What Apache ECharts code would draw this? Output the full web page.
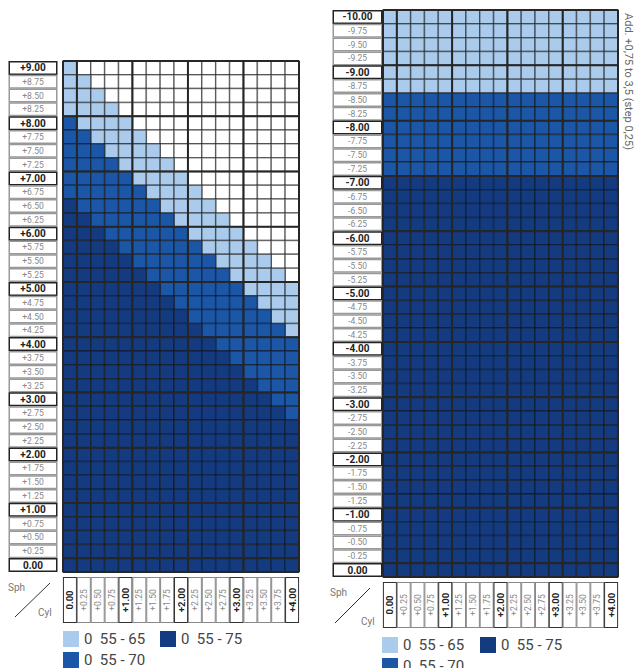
<!DOCTYPE html>
<html><head><meta charset="utf-8">
<script src="https://cdn.jsdelivr.net/npm/echarts@6/dist/echarts.min.js"></script>
<style>html,body{margin:0;padding:0;background:#fff}#c{width:639px;height:668px}</style>
</head><body><div id="c"></div>
<script>
// ---- data ----
const cylLabels = ['0.00','+0.25','+0.50','+0.75','+1.00','+1.25','+1.50','+1.75','+2.00',
  '+2.25','+2.50','+2.75','+3.00','+3.25','+3.50','+3.75','+4.00'];
const leftSph = ['+9.00','+8.75','+8.50','+8.25','+8.00','+7.75','+7.50','+7.25','+7.00',
  '+6.75','+6.50','+6.25','+6.00','+5.75','+5.50','+5.25','+5.00','+4.75','+4.50','+4.25',
  '+4.00','+3.75','+3.50','+3.25','+3.00','+2.75','+2.50','+2.25','+2.00','+1.75','+1.50',
  '+1.25','+1.00','+0.75','+0.50','+0.25','0.00'];
const rightSph = ['-10.00','-9.75','-9.50','-9.25','-9.00','-8.75','-8.50','-8.25','-8.00',
  '-7.75','-7.50','-7.25','-7.00','-6.75','-6.50','-6.25','-6.00','-5.75','-5.50','-5.25',
  '-5.00','-4.75','-4.50','-4.25','-4.00','-3.75','-3.50','-3.25','-3.00','-2.75','-2.50',
  '-2.25','-2.00','-1.75','-1.50','-1.25','-1.00','-0.75','-0.50','-0.25','0.00'];
const categoryNames = ['0  55 - 65', '0  55 - 70', '0  55 - 75'];
// cell codes per row (one char per Cyl column): 0 = none, 1/2/3 = category index + 1
const leftRows = [
  '10000000000000000', // +9.00
  '11000000000000000', // +8.75
  '11100000000000000', // +8.50
  '11110000000000000', // +8.25
  '21111000000000000', // +8.00
  '22111100000000000', // +7.75
  '22211110000000000', // +7.50
  '22221111000000000', // +7.25
  '22222111100000000', // +7.00
  '22222211110000000', // +6.75
  '32222221111000000', // +6.50
  '33222222111100000', // +6.25
  '33322222211110000', // +6.00
  '33332222221111000', // +5.75
  '33333222222111100', // +5.50
  '33333322222211110', // +5.25
  '33333332222221111', // +5.00
  '33333333222222111', // +4.75
  '33333333322222211', // +4.50
  '33333333332222221', // +4.25
  '33333333333222222', // +4.00
  '33333333333322222', // +3.75
  '33333333333332222', // +3.50
  '33333333333333222', // +3.25
  '33333333333333322', // +3.00
  '33333333333333332', // +2.75
  '33333333333333333', // +2.50
  '33333333333333333', // +2.25
  '33333333333333333', // +2.00
  '33333333333333333', // +1.75
  '33333333333333333', // +1.50
  '33333333333333333', // +1.25
  '33333333333333333', // +1.00
  '33333333333333333', // +0.75
  '33333333333333333', // +0.50
  '33333333333333333', // +0.25
  '33333333333333333'  // 0.00
];
const rightRows = [
  '11111111111111111', // -10.00
  '11111111111111111', // -9.75
  '11111111111111111', // -9.50
  '11111111111111111', // -9.25
  '11111111111111111', // -9.00
  '11111111111111111', // -8.75
  '22222222222222222', // -8.50
  '22222222222222222', // -8.25
  '22222222222222222', // -8.00
  '22222222222222222', // -7.75
  '22222222222222222', // -7.50
  '22222222222222222', // -7.25
  '33333333333333333', // -7.00
  '33333333333333333', // -6.75
  '33333333333333333', // -6.50
  '33333333333333333', // -6.25
  '33333333333333333', // -6.00
  '33333333333333333', // -5.75
  '33333333333333333', // -5.50
  '33333333333333333', // -5.25
  '33333333333333333', // -5.00
  '33333333333333333', // -4.75
  '33333333333333333', // -4.50
  '33333333333333333', // -4.25
  '33333333333333333', // -4.00
  '33333333333333333', // -3.75
  '33333333333333333', // -3.50
  '33333333333333333', // -3.25
  '33333333333333333', // -3.00
  '33333333333333333', // -2.75
  '33333333333333333', // -2.50
  '33333333333333333', // -2.25
  '33333333333333333', // -2.00
  '33333333333333333', // -1.75
  '33333333333333333', // -1.50
  '33333333333333333', // -1.25
  '33333333333333333', // -1.00
  '33333333333333333', // -0.75
  '33333333333333333', // -0.50
  '33333333333333333', // -0.25
  '33333333333333333'  // 0.00
];
const addNote = 'Add. +0,75 to 3,5 (step 0,25)';

// ---- styles ----
const colors = ['#aacbeb', '#1b56a7', '#143b80'];
const thin = 'rgba(15,15,15,0.5)', thick = '#262626';
const isMajor = s => /\.00$/.test(s);

function renderCell(params, api) {
  const c = api.coord([api.value(0), api.value(1)]);
  const s = api.size([1, 1]);
  return { type: 'rect',
    shape: { x: c[0] - s[0] / 2, y: c[1] - s[1] / 2, width: s[0], height: s[1] },
    style: { fill: api.visual('color'), stroke: thin, lineWidth: 1.5 } };
}
function cellSeries(rows, gi, code, name, color) {
  const data = [];
  rows.forEach((row, y) => { for (let x = 0; x < row.length; x++) if (row[x] === code) data.push([x, y]); });
  return { type: 'custom', name: name, xAxisIndex: gi, yAxisIndex: gi, silent: true,
    renderItem: renderCell, itemStyle: { color: color }, encode: { x: 0, y: 1 }, data: data };
}
function frameSeries(sph, gi) {
  return { type: 'custom', xAxisIndex: gi, yAxisIndex: gi, silent: true, z: 10,
    encode: { x: 0, y: 1 }, data: [[0, 0]],
    renderItem: function (params, api) {
      const nC = cylLabels.length, nR = sph.length;
      const p0 = api.coord([0, 0]), p1 = api.coord([nC - 1, nR - 1]);
      const dx = (p1[0] - p0[0]) / (nC - 1), dy = (p1[1] - p0[1]) / (nR - 1);
      const x0 = p0[0] - dx / 2, x1 = p1[0] + dx / 2, y0 = p0[1] - dy / 2, y1 = p1[1] + dy / 2;
      const ch = [];
      const ln = (a, b, c, d) => ch.push({ type: 'line', shape: { x1: a, y1: b, x2: c, y2: d },
        style: { stroke: thick, lineWidth: 2 } });
      ln(x0, y0, x0, y1);
      cylLabels.forEach((l, i) => { if (isMajor(l)) { const x = p0[0] + dx * (i + 0.5); ln(x, y0, x, y1); } });
      sph.forEach((l, j) => { if (isMajor(l)) { const y = p0[1] + dy * (j - 0.5); ln(x0, y, x1, y); } });
      ln(x0, y1, x1, y1);
      ln(x1, y0, x1, y1);
      return { type: 'group', children: ch };
    } };
}
function yLabelRich(w) {
  return {
    b: { fontSize: 10, fontWeight: 'bold', color: '#222', width: w, height: 11, align: 'center',
      backgroundColor: '#fff', borderColor: '#222', borderWidth: 1.5, fontFamily: 'Roboto' },
    n: { fontSize: 8.5, color: '#888', width: w, height: 11, align: 'center',
      backgroundColor: '#fff', borderColor: '#999', borderWidth: 1.5, fontFamily: 'Roboto' }
  };
}
const xRich = {
  b: { fontSize: 9.5, fontWeight: 'bold', color: '#222', width: 44, height: 12, align: 'center',
    backgroundColor: '#fff', borderColor: '#333', borderWidth: 1, fontFamily: 'Roboto' },
  n: { fontSize: 8.5, color: '#888', width: 44, height: 12, align: 'center',
    backgroundColor: '#fff', borderColor: '#888', borderWidth: 1, fontFamily: 'Roboto' }
};
const fmt = v => (isMajor(v) ? '{b|' : '{n|') + v + '}';

function xAxisFor(gi) {
  return { type: 'category', gridIndex: gi, data: cylLabels, position: 'bottom',
    axisLine: { show: false }, axisTick: { show: false }, splitLine: { show: false },
    axisLabel: { interval: 0, rotate: 90, margin: 6, formatter: fmt, rich: xRich } };
}
function yAxisFor(gi, sph, margin, w) {
  return { type: 'category', gridIndex: gi, data: sph, inverse: true,
    axisLine: { show: false }, axisTick: { show: false }, splitLine: { show: false },
    axisLabel: { interval: 0, margin: margin, formatter: fmt, rich: yLabelRich(w) } };
}

const series = [];
[[leftRows, 0], [rightRows, 1]].forEach(([rows, gi]) => {
  series.push(cellSeries(rows, gi, '0', 'none', '#ffffff'));
  categoryNames.forEach((n, k) => series.push(cellSeries(rows, gi, String(k + 1), n, colors[k])));
});
series.push(frameSeries(leftSph, 0), frameSeries(rightSph, 1));

const legendBase = { orient: 'vertical', itemWidth: 16, itemHeight: 16, itemGap: 5, padding: 0,
  height: 60, icon: 'rect', selectedMode: false,
  textStyle: { fontSize: 15, color: '#444', fontFamily: 'Roboto' } };
const sphCyl = (sx, sy, cx, cy, lx1, ly1, lx2, ly2) => [
  { type: 'text', left: sx, top: sy, style: { text: 'Sph', fontSize: 10, fill: '#777', fontFamily: 'Roboto' } },
  { type: 'text', left: cx, top: cy, style: { text: 'Cyl', fontSize: 10, fill: '#777', fontFamily: 'Roboto' } },
  { type: 'line', shape: { x1: lx1, y1: ly1, x2: lx2, y2: ly2 }, style: { stroke: '#333', lineWidth: 1 } }
];

const chart = echarts.init(document.getElementById('c'), null, { renderer: 'svg' });
chart.setOption({
  animation: false,
  grid: [
    { left: 63, top: 61, width: 236, height: 511 },
    { left: 383, top: 10, width: 235, height: 567 }
  ],
  xAxis: [xAxisFor(0), xAxisFor(1)],
  yAxis: [yAxisFor(0, leftSph, 7, 46), yAxisFor(1, rightSph, 2, 47)],
  legend: [
    Object.assign({}, legendBase, { data: [categoryNames[0], categoryNames[1]], left: 63, top: 631 }),
    Object.assign({}, legendBase, { data: [categoryNames[2]], left: 160, top: 631 }),
    Object.assign({}, legendBase, { data: [categoryNames[0], categoryNames[1]], left: 382, top: 637 }),
    Object.assign({}, legendBase, { data: [categoryNames[2]], left: 480, top: 637 })
  ],
  graphic: [].concat(
    sphCyl(8, 582, 38, 607, 15, 617, 50, 583),
    sphCyl(330, 587, 361, 616, 335, 623, 370, 588),
    [{ type: 'text', x: 628, y: 13, rotation: -Math.PI / 2,
       style: { text: addNote, fontSize: 11, fill: '#666', fontFamily: 'Roboto',
         align: 'left', verticalAlign: 'middle' } }]
  ),
  series: series
});
</script></body></html>
